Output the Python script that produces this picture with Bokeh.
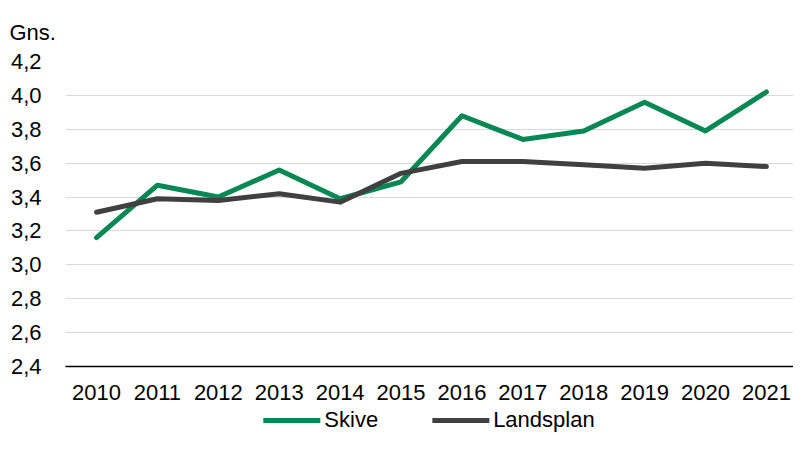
from bokeh.plotting import figure
from bokeh.layouts import column
from bokeh.models import Legend, LegendItem, FixedTicker, CustomJSTickFormatter, Range1d
from bokeh.embed import file_html
from bokeh.resources import INLINE

years = [2010, 2011, 2012, 2013, 2014, 2015, 2016, 2017, 2018, 2019, 2020, 2021]
skive = [3.16, 3.47, 3.40, 3.56, 3.39, 3.49, 3.88, 3.74, 3.79, 3.96, 3.79, 4.02]
landsplan = [3.31, 3.39, 3.38, 3.42, 3.37, 3.54, 3.61, 3.61, 3.59, 3.57, 3.60, 3.58]
y_ticks = [2.4, 2.6, 2.8, 3.0, 3.2, 3.4, 3.6, 3.8, 4.0, 4.2]
series_names = ["Skive", "Landsplan"]
series_colors = ["#078754", "#404040"]

FONT = "Liberation Sans"

p = figure(width=793, height=406, output_backend="svg", toolbar_location=None,
           x_range=Range1d(2009.49, 2021.445), y_range=Range1d(2.4, 4.2),
           min_border_left=65, min_border_right=0, min_border_top=60, min_border_bottom=40,
           title="Gns.")
p.outline_line_color = None
p.background_fill_color = "white"
p.border_fill_color = "white"

p.title.text_font = FONT
p.title.text_font_size = "22px"
p.title.text_font_style = "normal"
p.title.text_color = "black"
p.title.align = "left"
p.title.offset = -56
p.title.standoff = 34

p.line(years, skive, line_color=series_colors[0], line_width=5, line_cap="round", line_join="round")
p.line(years, landsplan, line_color=series_colors[1], line_width=5, line_cap="round", line_join="round")

p.xaxis.ticker = FixedTicker(ticks=years)
p.yaxis.ticker = FixedTicker(ticks=y_ticks)
p.yaxis.formatter = CustomJSTickFormatter(code="return tick.toFixed(1).replace('.', ',');")
for ax in (p.xaxis[0], p.yaxis[0]):
    ax.major_tick_line_color = None
    ax.minor_tick_line_color = None
    ax.major_label_text_font = FONT
    ax.major_label_text_font_size = "22px"
    ax.major_label_text_color = "black"
p.yaxis.axis_line_color = None
p.yaxis.major_label_standoff = 18
p.xaxis.axis_line_color = "black"
p.xaxis.axis_line_width = 1.5
p.xaxis.major_label_standoff = 12

p.xgrid.grid_line_color = None
p.ygrid.grid_line_color = "#d9d9d9"
p.ygrid.grid_line_width = 1.2

# legend strip (dummy renderers lie outside the visible range)
pl = figure(width=793, height=28, output_backend="svg", toolbar_location=None,
            min_border=0, x_range=Range1d(0, 1), y_range=Range1d(0, 1))
pl.axis.visible = False
pl.grid.visible = False
pl.outline_line_color = None
rs = [pl.line([-2, -1], [-2, -1], line_color=c, line_width=5, line_cap="round") for c in series_colors]
legend = Legend(items=[LegendItem(label=n, renderers=[r]) for n, r in zip(series_names, rs)],
                orientation="horizontal", location="center",
                label_text_font=FONT, label_text_font_size="22px", label_text_color="black",
                glyph_width=57, glyph_height=22, label_height=22, label_standoff=4, spacing=54,
                padding=0, margin=0, border_line_color=None, background_fill_alpha=0)
pl.add_layout(legend, "center")

layout = column(p, pl, spacing=0)
open("out.html", "w").write(file_html(layout, INLINE))
